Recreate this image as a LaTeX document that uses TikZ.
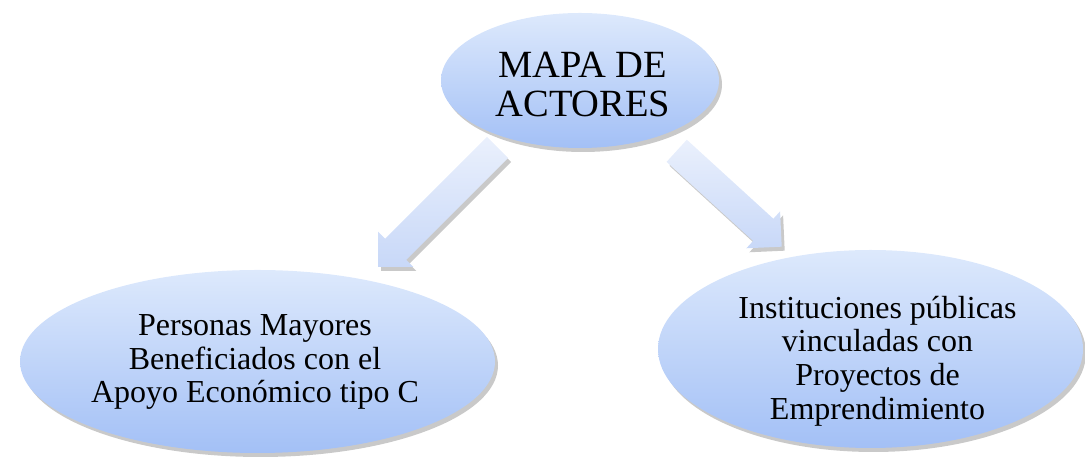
\documentclass[tikz,border=0pt]{standalone}
\usepackage{fontspec}
\setmainfont{Liberation Serif}
\usetikzlibrary{shapes.geometric,shadows}
\definecolor{elltop}{RGB}{221,233,252}
\definecolor{ellbot}{RGB}{163,192,246}
\definecolor{arrtop}{RGB}{234,240,252}
\definecolor{arrbot}{RGB}{200,216,248}
\tikzset{
  softshadow/.style={drop shadow={shadow xshift=3pt, shadow yshift=-4pt, opacity=0.3, fill=black!70}},
  actor/.style={ellipse, draw=none, inner sep=0pt, top color=elltop, bottom color=ellbot, softshadow},
  lbl/.style={align=center, inner sep=0pt, text=black},
  blockarr/.style={draw=none, top color=arrtop, bottom color=arrbot, softshadow},
}
\newcommand\myblockarrow[3]{%
  \begin{scope}[shift={(#1)}, rotate=#2]
    \path[blockarr] (0,-15) -- (#3-25,-15) -- (#3-25,-25) -- (#3,0)
      -- (#3-25,25) -- (#3-25,15) -- (0,15) -- cycle;
  \end{scope}}
\begin{document}
\begin{tikzpicture}[x=1pt,y=1pt]
\useasboundingbox (0,0) rectangle (1085,462);
% ellipses
\node[actor, minimum width=278pt, minimum height=135pt] (top) at (580,381.5) {};
\node[actor, minimum width=475pt, minimum height=183pt] (left) at (257.5,100.5) {};
\node[actor, minimum width=425pt, minimum height=198pt] (right) at (870.5,113) {};
% texts
\node[lbl, font=\fontsize{38.5}{39}\selectfont] (topT) at (583,377.8) {MAPA DE\\ACTORES};
\node[lbl, font=\fontsize{32}{33.3}\selectfont] (leftT) at (255,100) {Personas Mayores\\Beneficiados con el\\Apoyo Económico tipo C};
\node[lbl, font=\fontsize{32}{33.6}\selectfont] (rightT) at (877.5,101) {Instituciones públicas\\vinculadas con\\Proyectos de\\Emprendimiento};
% block arrows
\coordinate (la) at (497.5,314.5);
\coordinate (ra) at (676.7,311.2);
\myblockarrow{la}{225}{169}
\myblockarrow{ra}{-42.4}{142.2}
\end{tikzpicture}
\end{document}
